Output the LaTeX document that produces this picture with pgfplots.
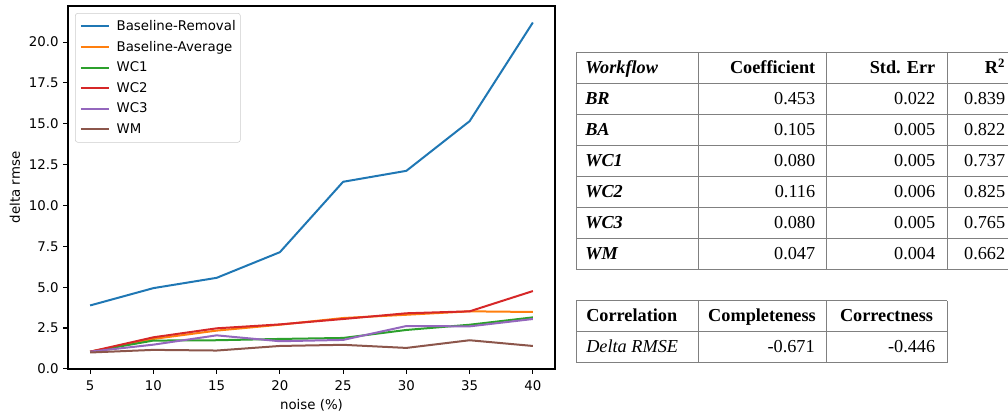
\documentclass[border=0pt]{standalone}
\usepackage{pgfplots}
\pgfplotsset{compat=1.18}
\usepackage{fontspec}
\setmainfont{DejaVu Sans}
\newfontfamily\tabfont{Liberation Serif}
\definecolor{c0}{HTML}{1F77B4}
\definecolor{c1}{HTML}{FF7F0E}
\definecolor{c2}{HTML}{2CA02C}
\definecolor{c3}{HTML}{D62728}
\definecolor{c4}{HTML}{9467BD}
\definecolor{c5}{HTML}{8C564B}
\definecolor{tline}{HTML}{808080}
\begin{document}
\begin{tikzpicture}[x=0.75pt,y=0.75pt]
\path[use as bounding box] (0,0) rectangle (1008,414);
\begin{axis}[
  at={(51pt,33.75pt)}, anchor=south west, scale only axis,
  width=365.25pt, height=272.25pt,
  xmin=3.25, xmax=41.75, ymin=-0.01, ymax=22.21,
  xtick={5,10,15,20,25,30,35,40},
  ytick={0,2.5,5,7.5,10,12.5,15,17.5,20},
  yticklabel style={/pgf/number format/.cd, fixed, fixed zerofill, precision=1},
  xticklabel style={yshift=-2pt},
  /pgf/number format/assume math mode=true,
  tick pos=left, tick align=outside, major tick length=3.5pt,
  tick style={black, line width=0.8pt},
  axis line style={line width=0.8pt},
  every tick label/.append style={font=\fontsize{10}{12}\selectfont},
  xlabel={noise (\%)}, ylabel={delta rmse},
  label style={font=\fontsize{10}{12}\selectfont},
  xlabel style={at={(axis description cs:0.5,-0.1129)}, anchor=base},
  ylabel style={at={(axis description cs:-0.1088,0.5)}, anchor=center},
  legend cell align=left,
  legend image code/.code={\draw[#1] (0pt,0pt) -- (21pt,0pt);},
  legend style={at={(0.0144,0.9807)}, anchor=north west, draw=gray!40,
    rounded corners=2pt, fill=white, font=\fontsize{10}{12}\selectfont,
    inner sep=3.5pt, row sep=2.6pt, column sep=5pt,
    nodes={inner sep=0pt, text height=9.5pt, text depth=3.3pt}},
  every axis plot/.append style={line width=1.5pt, line join=round},
]
\addplot[c0] coordinates {(5,3.88)(10,4.94)(15,5.57)(20,7.14)(25,11.45)(30,12.12)(35,15.16)(40,21.2)};
\addlegendentry{Baseline-Removal}
\addplot[c1] coordinates {(5,1.05)(10,1.83)(15,2.34)(20,2.70)(25,3.11)(30,3.31)(35,3.52)(40,3.48)};
\addlegendentry{Baseline-Average}
\addplot[c2] coordinates {(5,1.05)(10,1.73)(15,1.75)(20,1.83)(25,1.89)(30,2.38)(35,2.70)(40,3.15)};
\addlegendentry{WC1}
\addplot[c3] coordinates {(5,1.05)(10,1.93)(15,2.48)(20,2.72)(25,3.05)(30,3.40)(35,3.52)(40,4.76)};
\addlegendentry{WC2}
\addplot[c4] coordinates {(5,1.05)(10,1.48)(15,2.05)(20,1.69)(25,1.77)(30,2.62)(35,2.60)(40,3.05)};
\addlegendentry{WC3}
\addplot[c5] coordinates {(5,1.0)(10,1.16)(15,1.12)(20,1.40)(25,1.47)(30,1.28)(35,1.75)(40,1.40)};
\addlegendentry{WM}
\end{axis}
% ---- Table 1 ----
\tikzset{tb/.style={font=\tabfont\fontsize{13.7}{16}\selectfont, inner sep=0pt}}
\begin{scope}[tline, line width=0.75pt]
\foreach \yy in {361.5,330.5,299.5,268.5,237.5,206.5,175.5,144.5}
  \draw (576,\yy) -- (1016,\yy);
\foreach \xx in {576,698,826,947,1016}
  \draw (\xx,361.5) -- (\xx,144.5);
\foreach \yy in {113,82,51}
  \draw (576,\yy) -- (947,\yy);
\foreach \xx in {576,698,826,947}
  \draw (\xx,113) -- (\xx,51);
\end{scope}
\node[tb, anchor=base west] at (585,340) {\bfseries\itshape Workflow};
\node[tb, anchor=base east] at (815.5,340) {\bfseries Coefficient};
\node[tb, anchor=base east] at (935.5,340) {\bfseries Std. Err};
\node[tb, anchor=base east] at (1005.5,340) {\bfseries R\textsuperscript{2}};
\foreach \yb/\nm/\co/\se/\rr in {309/BR/0.453/0.022/0.839, 278/BA/0.105/0.005/0.822, 247/WC1/0.080/0.005/0.737, 216/WC2/0.116/0.006/0.825, 185/WC3/0.080/0.005/0.765, 154/WM/0.047/0.004/0.662}{
  \node[tb, anchor=base west] at (585,\yb) {\bfseries\itshape \nm};
  \node[tb, anchor=base east] at (815.5,\yb) {\co};
  \node[tb, anchor=base east] at (935.5,\yb) {\se};
  \node[tb, anchor=base east] at (1005.5,\yb) {\rr};
}
% ---- Table 2 ----
\node[tb, anchor=base west] at (586,92) {\bfseries Correlation};
\node[tb, anchor=base] at (762,92) {\bfseries Completeness};
\node[tb, anchor=base] at (886.5,92) {\bfseries Correctness};
\node[tb, anchor=base west] at (586,61) {\itshape Delta RMSE};
\node[tb, anchor=base east] at (815,61) {-0.671};
\node[tb, anchor=base east] at (935.5,61) {-0.446};
\end{tikzpicture}
\end{document}
